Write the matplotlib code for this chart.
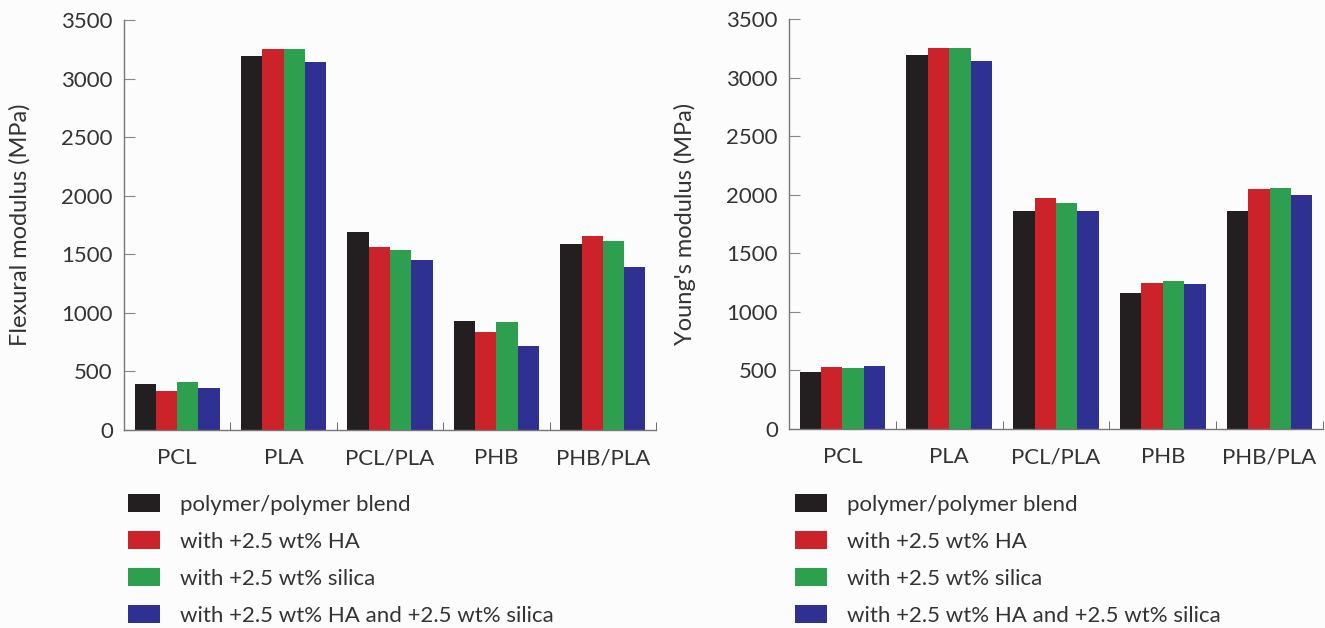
import matplotlib
matplotlib.use("Agg")
import matplotlib.pyplot as plt
import numpy as np

# categories and series
categories = ["PCL", "PLA", "PCL/PLA", "PHB", "PHB/PLA"]
series_names = ["polymer/polymer blend",
                "with +2.5 wt% HA",
                "with +2.5 wt% silica",
                "with +2.5 wt% HA and +2.5 wt% silica"]
colors = ["#231f20", "#cc2229", "#2e9e4f", "#2e3192"]

# flexural modulus (MPa)
flex_blend = [390, 3190, 1690, 930, 1585]
flex_ha = [330, 3250, 1560, 835, 1655]
flex_silica = [410, 3250, 1540, 920, 1615]
flex_both = [355, 3140, 1455, 720, 1395]

# Young's modulus (MPa)
young_blend = [485, 3190, 1860, 1160, 1860]
young_ha = [530, 3250, 1975, 1245, 2045]
young_silica = [525, 3250, 1930, 1265, 2055]
young_both = [535, 3145, 1860, 1240, 2000]

plt.rcParams['font.family'] = ['Lato', 'DejaVu Sans']
TXT = '#333333'


# draw one grouped bar chart
def drawPanel(ax, data, ylabel):
    x = np.arange(len(categories))
    width = 0.2
    for i, vals in enumerate(data):
        ax.bar(x + (i - 1.5) * width, vals, width, color=colors[i],
               label=series_names[i], edgecolor='none')
    ax.set_xlim(-0.5, len(categories) - 0.5)
    ax.set_ylim(0, 3500)
    ax.set_yticks(np.arange(0, 3501, 500))
    ax.set_xticks(x)
    ax.set_xticklabels(categories)
    ax.set_xticks(x + 0.5, minor=True)
    ax.tick_params(axis='x', which='major', length=0, pad=13, labelsize=16, colors=TXT)
    ax.tick_params(axis='x', which='minor', direction='in', length=6, color='#555555')
    ax.tick_params(axis='y', direction='in', length=8, labelsize=16, colors=TXT,
                   color='#888888', pad=8)
    for side in ('top', 'right'):
        ax.spines[side].set_visible(False)
    for side in ('left', 'bottom'):
        ax.spines[side].set_color('#777777')
        ax.spines[side].set_linewidth(1.0)
    ax.set_ylabel(ylabel, fontsize=17, color=TXT, labelpad=22)
    ax.set_facecolor('#fcfcfc')


fig = plt.figure(figsize=(13.25, 6.28), dpi=100, facecolor='#fcfcfc')
ax1 = fig.add_axes([124 / 1325, 1 - 430 / 628, (656 - 124) / 1325, 410 / 628])
ax2 = fig.add_axes([789 / 1325, 1 - 429 / 628, (1323 - 789) / 1325, 410 / 628])

drawPanel(ax1, [flex_blend, flex_ha, flex_silica, flex_both], "Flexural modulus (MPa)")
drawPanel(ax2, [young_blend, young_ha, young_silica, young_both], "Young's modulus (MPa)")

for ax, x0 in ((ax1, 128), (ax2, 795)):
    handles, labels = ax.get_legend_handles_labels()
    fig.legend(handles, labels, loc='upper left', bbox_to_anchor=(x0 / 1325, 1 - 494 / 628),
               frameon=False, fontsize=16, handlelength=1.45, handleheight=0.9,
               handletextpad=0.9, labelspacing=0.72, borderpad=0, borderaxespad=0,
               labelcolor=TXT)

fig.savefig("out.png", dpi=100, facecolor=fig.get_facecolor())
